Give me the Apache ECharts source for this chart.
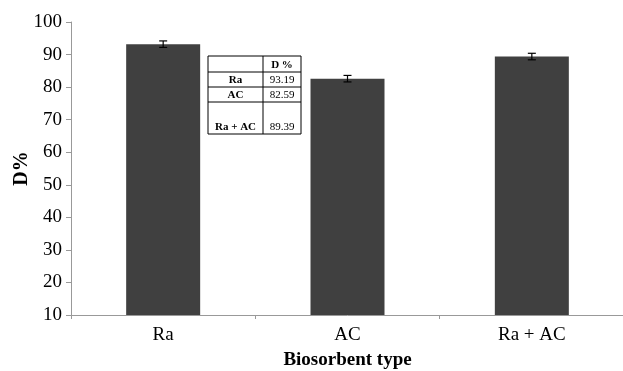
<!DOCTYPE html>
<html><head><meta charset="utf-8">
<script src="https://cdn.jsdelivr.net/npm/echarts@6/dist/echarts.min.js"></script>
<style>html,body{margin:0;padding:0;background:#fff}#c{width:623px;height:371px}</style>
</head><body><div id="c"></div>
<script>
var categories = ['Ra', 'AC', 'Ra + AC'];
var values = [93.19, 82.59, 89.39];
var errors = [1.0, 1.0, 1.0];
var yTicks = [10, 20, 30, 40, 50, 60, 70, 80, 90, 100];
var tableHeader = 'D %';

var chart = echarts.init(document.getElementById('c'));
var font = '"Liberation Serif", "Times New Roman", serif';

// table graphic
var tx = 208, ty = 56, tw = 93, colX = 263;
var rowY = [56, 72, 87, 102, 134];
var g = [];
g.push({type:'rect', shape:{x:tx, y:ty, width:tw, height:rowY[4]-ty}, style:{fill:'#fff', stroke:'#000', lineWidth:1}});
g.push({type:'line', shape:{x1:colX, y1:ty, x2:colX, y2:rowY[4]}, style:{stroke:'#000', lineWidth:1}});
for (var i = 1; i < 4; i++) g.push({type:'line', shape:{x1:tx, y1:rowY[i], x2:tx+tw, y2:rowY[i]}, style:{stroke:'#000', lineWidth:1}});
g.push({type:'text', x:(colX+tx+tw)/2, y:(rowY[0]+rowY[1])/2 + 1, style:{text:tableHeader, font:'bold 11px '+font, fill:'#000', textAlign:'center', textVerticalAlign:'middle'}});
for (var i = 0; i < categories.length; i++) {
  var yy = i < 2 ? (rowY[i+1]+rowY[i+2])/2 + 1 : rowY[4]-7;
  g.push({type:'text', x:(tx+colX)/2, y:yy, style:{text:categories[i], font:'bold 11px '+font, fill:'#000', textAlign:'center', textVerticalAlign:'middle'}});
  g.push({type:'text', x:(colX+tx+tw)/2, y:yy, style:{text:values[i].toFixed(2), font:'11px '+font, fill:'#000', textAlign:'center', textVerticalAlign:'middle'}});
}

chart.setOption({
  animation:false,
  backgroundColor:'#fff',
  grid:{left:71, top:22, width:553, height:293, containLabel:false, outerBoundsMode:'none'},
  xAxis:{type:'category', data:categories,
    axisLine:{lineStyle:{color:'#999', width:1}},
    axisTick:{show:true, length:4, lineStyle:{color:'#999'}},
    axisLabel:{color:'#000', fontFamily:font, fontSize:19, margin:11},
    name:'Biosorbent type', nameLocation:'middle', nameGap:36, nameMoveOverlap:false,
    nameTextStyle:{color:'#000', fontFamily:font, fontSize:19, fontWeight:'bold'}
  },
  yAxis:{type:'value', min:yTicks[0], max:yTicks[yTicks.length-1], interval:10,
    axisLine:{show:true, lineStyle:{color:'#999', width:1}},
    axisTick:{show:true, length:5, lineStyle:{color:'#999'}},
    splitLine:{show:false},
    axisLabel:{color:'#000', fontFamily:font, fontSize:19, margin:9},
    name:'D%', nameLocation:'middle', nameGap:39, nameMoveOverlap:false,
    nameTextStyle:{color:'#000', fontFamily:font, fontSize:20, fontWeight:'bold'}
  },
  series:[
    {type:'bar', data:values, barWidth:74, itemStyle:{color:'#404040'}},
    {type:'custom', data:values.map(function(v,i){return [i, v-errors[i], v+errors[i]];}),
      renderItem:function(params, api){
        var lo = api.coord([api.value(0), api.value(1)]);
        var hi = api.coord([api.value(0), api.value(2)]);
        var hw = 4;
        var st = {stroke:'#000', lineWidth:1.2};
        return {type:'group', children:[
          {type:'line', shape:{x1:lo[0], y1:lo[1], x2:hi[0], y2:hi[1]}, style:st},
          {type:'line', shape:{x1:lo[0]-hw, y1:lo[1], x2:lo[0]+hw, y2:lo[1]}, style:st},
          {type:'line', shape:{x1:hi[0]-hw, y1:hi[1], x2:hi[0]+hw, y2:hi[1]}, style:st}
        ]};
      }, z:10}
  ],
  graphic:g
});
</script></body></html>
